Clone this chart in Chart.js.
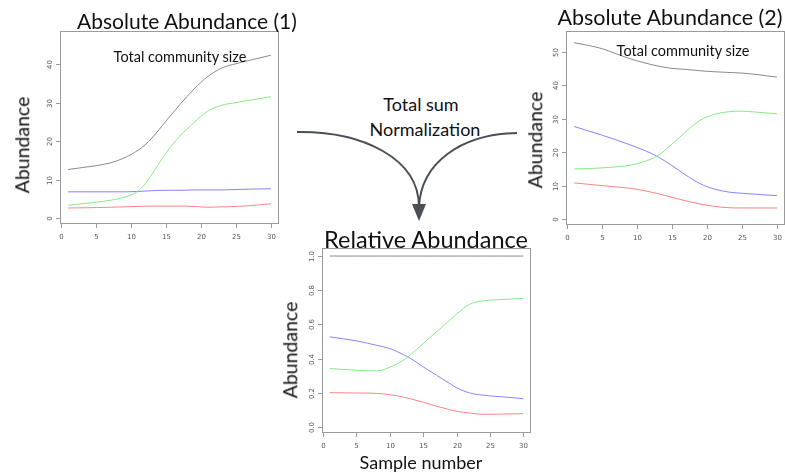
<!DOCTYPE html>
<html><head><meta charset="utf-8">
<script src="https://cdn.jsdelivr.net/npm/chart.js@4.4.1/dist/chart.umd.min.js"></script>
<style>
html,body{margin:0;padding:0;background:#fff;width:785px;height:474px;overflow:hidden;position:relative;font-family:Lato,'Open Sans',sans-serif;color:#111}
canvas{position:absolute}
.t{position:absolute;white-space:nowrap;line-height:1;transform:translate(-50%,-50%)}
.rot{transform:translate(-50%,-50%) rotate(-90deg)}
</style></head><body>

<svg width="785" height="474" style="position:absolute;left:0;top:0">
  <g fill="none" stroke="#4a4f56" stroke-width="2">
    <path d="M297,132 C362,131 419,158 419,207"/>
    <path d="M517,133 C462,134 421,162 419,207"/>
  </g>
  <path d="M412,204 L426,204 L419,221 Z" fill="#4a4f56"/>
</svg>

<canvas id="c1"></canvas>
<canvas id="c2"></canvas>
<canvas id="c3"></canvas>

<div class="t" style="left:187px;top:20px;font-size:21px">Absolute Abundance (1)</div>
<div class="t" style="left:670px;top:18px;font-size:21.5px">Absolute Abundance (2)</div>
<div class="t" style="left:426px;top:240px;font-size:23.5px">Relative Abundance</div>
<div class="t rot" style="left:22px;top:145px;font-size:19.5px">Abundance</div>
<div class="t rot" style="left:535px;top:140px;font-size:19.5px">Abundance</div>
<div class="t rot" style="left:290px;top:350px;font-size:19.5px">Abundance</div>
<div class="t" style="left:421px;top:462px;font-size:18px">Sample number</div>
<div class="t" style="left:180px;top:57px;font-size:14.5px">Total community size</div>
<div class="t" style="left:683px;top:51px;font-size:14.5px">Total community size</div>
<div class="t" style="left:421px;top:104px;font-size:18px">Total sum</div>
<div class="t" style="left:425px;top:129px;font-size:18px">Normalization</div>

<script>
// ---- data ----
const xTicks = [0, 5, 10, 15, 20, 25, 30];

// Absolute Abundance (1)
const x1 = [1, 3, 5, 7, 9, 11, 12, 13, 15, 17, 19, 21, 23, 25, 27, 30];
const total1 = [12.6, 13.1, 13.6, 14.3, 15.6, 17.6, 19.0, 20.8, 25.2, 29.5, 33.5, 36.8, 39.0, 40.1, 41.0, 42.3];
const green1 = [3.3, 3.7, 4.1, 4.6, 5.4, 7.0, 8.9, 11.4, 16.9, 21.3, 24.8, 27.8, 29.3, 30.0, 30.6, 31.5];
const blue1 = [6.8, 6.8, 6.8, 6.8, 6.8, 6.9, 7.0, 7.1, 7.2, 7.2, 7.3, 7.3, 7.3, 7.4, 7.5, 7.6];
const red1 = [2.6, 2.65, 2.7, 2.8, 2.9, 3.0, 3.05, 3.1, 3.1, 3.1, 3.0, 2.8, 2.9, 3.0, 3.2, 3.7];
const yTicks1 = [0, 10, 20, 30, 40];

// Absolute Abundance (2)
const x2 = [1, 3, 5, 7, 9, 11, 13, 15, 17, 19, 21, 23, 25, 27, 30];
const total2 = [52.8, 52, 51, 49.5, 48, 46.8, 45.8, 45.1, 44.8, 44.4, 44.1, 43.9, 43.7, 43.3, 42.5];
const green2 = [15, 15.1, 15.3, 15.6, 16.1, 17.2, 19.0, 22.4, 26.2, 29.5, 31.3, 32.1, 32.3, 32.0, 31.5];
const blue2 = [27.7, 26.4, 25.1, 23.7, 22.2, 20.6, 18.6, 16.0, 13.1, 10.6, 9.0, 8.1, 7.7, 7.4, 7.0];
const red2 = [10.8, 10.4, 10, 9.6, 9.2, 8.5, 7.6, 6.5, 5.4, 4.5, 3.8, 3.4, 3.3, 3.3, 3.3];
const yTicks2 = [0, 10, 20, 30, 40, 50];

// Relative Abundance
const x3 = [1, 5, 8, 10, 12, 13, 15, 17, 19, 20, 22, 24, 27, 30];
const total3 = [1, 1, 1, 1, 1, 1, 1, 1, 1, 1, 1, 1, 1, 1];
const green3 = [0.342, 0.332, 0.328, 0.35, 0.39, 0.42, 0.488, 0.557, 0.625, 0.66, 0.719, 0.738, 0.746, 0.752];
const blue3 = [0.527, 0.504, 0.478, 0.459, 0.424, 0.404, 0.352, 0.303, 0.254, 0.23, 0.199, 0.186, 0.176, 0.166];
const red3 = [0.201, 0.199, 0.197, 0.189, 0.176, 0.166, 0.145, 0.122, 0.101, 0.092, 0.082, 0.074, 0.076, 0.078];
const yTicks3 = [0, 0.2, 0.4, 0.6, 0.8, 1.0];

const COLORS = { total: '#8a8a8a', green: '#84ec84', blue: '#8484ff', red: '#ff8484' };
const PAD = { left: 30, top: 4, right: 4, bottom: 22 };

// R-style box + outward ticks, y labels rotated like base graphics
const rAxes = {
  id: 'rAxes',
  afterDraw(chart, args, o) {
    const { ctx, chartArea: a, scales: { x, y } } = chart;
    ctx.save();
    ctx.strokeStyle = '#9a9a9a';
    ctx.lineWidth = 1;
    ctx.strokeRect(a.left + .5, a.top + .5, a.right - a.left - 1, a.bottom - a.top - 1);
    ctx.fillStyle = '#555';
    ctx.font = '7px "DejaVu Sans", sans-serif';
    ctx.textAlign = 'center';
    ctx.textBaseline = 'middle';
    ctx.beginPath();
    xTicks.forEach((v) => {
      const px = Math.round(x.getPixelForValue(v)) + .5;
      ctx.moveTo(px, a.bottom); ctx.lineTo(px, a.bottom + 4);
      ctx.fillText(String(v), px, a.bottom + 13);
    });
    o.yTicks.forEach((v) => {
      const py = Math.round(y.getPixelForValue(v)) + .5;
      ctx.moveTo(a.left, py); ctx.lineTo(a.left - 4, py);
      ctx.save();
      ctx.translate(a.left - 10, py);
      ctx.rotate(-Math.PI / 2);
      ctx.fillText(o.fmt(v), 0, 0);
      ctx.restore();
    });
    ctx.stroke();
    ctx.restore();
  }
};

function series(xs, ys, color) {
  return {
    data: xs.map((v, i) => ({ x: v, y: ys[i] })),
    borderColor: color, borderWidth: 1, pointRadius: 0,
    cubicInterpolationMode: 'monotone', fill: false
  };
}

function plot(id, box, yMin, yMax, datasets, yTicks, fmt) {
  const el = document.getElementById(id);
  const w = box.r - box.l + PAD.left + PAD.right;
  const h = box.b - box.t + PAD.top + PAD.bottom;
  el.width = w; el.height = h;
  el.style.left = (box.l - PAD.left) + 'px';
  el.style.top = (box.t - PAD.top) + 'px';
  new Chart(el, {
    type: 'line',
    data: { datasets },
    options: {
      responsive: false, animation: false, layout: { padding: PAD },
      plugins: { legend: { display: false }, tooltip: { enabled: false }, rAxes: { yTicks, fmt } },
      scales: {
        x: { type: 'linear', display: false, min: -0.16, max: 31.16 },
        y: { type: 'linear', display: false, min: yMin, max: yMax }
      }
    },
    plugins: [rAxes]
  });
}

plot('c1', { l: 60, t: 31, r: 279, b: 224 }, -1.56, 48.6, [
  series(x1, total1, COLORS.total), series(x1, green1, COLORS.green),
  series(x1, blue1, COLORS.blue), series(x1, red1, COLORS.red)
], yTicks1, (v) => String(v));

plot('c2', { l: 566, t: 31, r: 785, b: 225 }, -1.8, 56.3, [
  series(x2, total2, COLORS.total), series(x2, green2, COLORS.green),
  series(x2, blue2, COLORS.blue), series(x2, red2, COLORS.red)
], yTicks2, (v) => String(v));

plot('c3', { l: 322, t: 248, r: 531, b: 433 }, -0.035, 1.047, [
  series(x3, total3, COLORS.total), series(x3, green3, COLORS.green),
  series(x3, blue3, COLORS.blue), series(x3, red3, COLORS.red)
], yTicks3, (v) => v.toFixed(1));
</script>
</body></html>
